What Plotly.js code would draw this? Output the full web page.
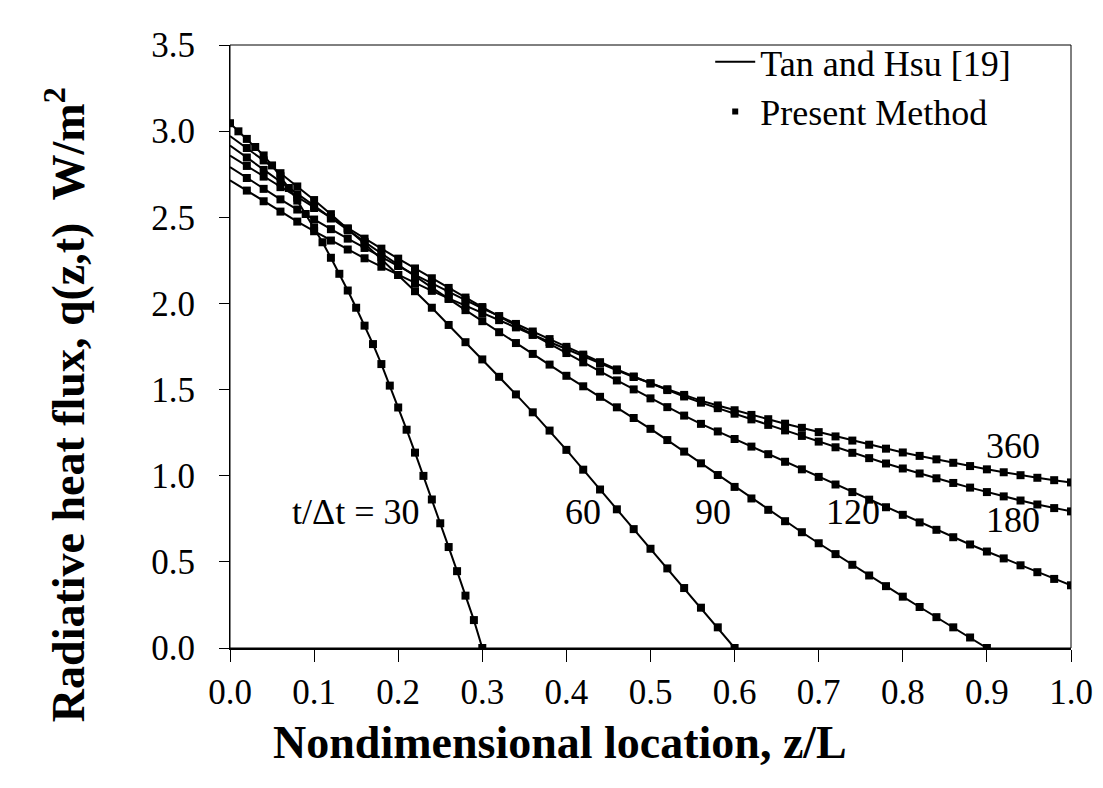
<!DOCTYPE html>
<html>
<head>
<meta charset="utf-8">
<script src="https://cdn.plot.ly/plotly-3.0.1.min.js"></script>
<style>html,body{margin:0;padding:0;background:#fff;}#chart{width:1103px;height:788px;}</style>
</head>
<body>
<div id="chart"></div>
<script>
// x locations
const xs01 = [0.00,0.01,0.02,0.03,0.04,0.05,0.06,0.07,0.08,0.09,0.10,0.11,0.12,0.13,0.14,0.15,0.16,0.17,0.18,0.19,0.20,0.21,0.22,0.23,0.24,0.25,0.26,0.27,0.28,0.29,0.30];
const xs02 = [0.00,0.02,0.04,0.06,0.08,0.10,0.12,0.14,0.16,0.18,0.20,0.22,0.24,0.26,0.28,0.30,0.32,0.34,0.36,0.38,0.40,0.42,0.44,0.46,0.48,0.50,0.52,0.54,0.56,0.58,0.60,0.62,0.64,0.66,0.68,0.70,0.72,0.74,0.76,0.78,0.80,0.82,0.84,0.86,0.88,0.90,0.92,0.94,0.96,0.98,1.00];

// radiative heat flux for each t/dt
const q30 = [3.046,2.999,2.955,2.908,2.859,2.801,2.738,2.670,2.597,2.519,2.440,2.355,2.265,2.172,2.075,1.975,1.871,1.764,1.648,1.523,1.396,1.267,1.134,0.999,0.862,0.724,0.586,0.446,0.304,0.162,0.000];
const q60 = [2.972,2.902,2.830,2.756,2.679,2.600,2.518,2.434,2.347,2.257,2.165,2.071,1.975,1.875,1.775,1.675,1.574,1.472,1.368,1.262,1.150,1.035,0.920,0.805,0.690,0.576,0.462,0.348,0.234,0.120,0.000];
const q90 = [2.917,2.847,2.775,2.704,2.633,2.563,2.494,2.425,2.357,2.290,2.223,2.157,2.091,2.026,1.961,1.897,1.833,1.770,1.707,1.645,1.580,1.519,1.458,1.397,1.335,1.272,1.207,1.140,1.072,1.004,0.935,0.868,0.802,0.736,0.672,0.608,0.545,0.483,0.421,0.359,0.298,0.238,0.179,0.120,0.061,0.000];
const q120 = [2.858,2.798,2.736,2.675,2.614,2.554,2.494,2.435,2.376,2.318,2.260,2.203,2.146,2.090,2.034,1.979,1.925,1.871,1.818,1.765,1.712,1.658,1.605,1.553,1.501,1.449,1.398,1.349,1.301,1.257,1.213,1.169,1.125,1.081,1.037,0.993,0.949,0.905,0.861,0.817,0.773,0.729,0.686,0.643,0.601,0.560,0.520,0.480,0.440,0.401,0.364];
const q180 = [2.792,2.728,2.665,2.604,2.545,2.487,2.431,2.376,2.322,2.269,2.217,2.166,2.116,2.067,2.019,1.972,1.926,1.881,1.837,1.793,1.748,1.703,1.659,1.617,1.576,1.536,1.497,1.460,1.424,1.392,1.360,1.327,1.295,1.263,1.231,1.198,1.165,1.133,1.102,1.071,1.042,1.013,0.985,0.958,0.931,0.905,0.880,0.856,0.833,0.812,0.793];
const q360 = [2.715,2.655,2.593,2.533,2.475,2.419,2.365,2.313,2.262,2.213,2.165,2.118,2.073,2.029,1.986,1.944,1.903,1.861,1.818,1.776,1.734,1.693,1.652,1.612,1.573,1.536,1.502,1.469,1.436,1.408,1.380,1.353,1.328,1.302,1.278,1.253,1.228,1.204,1.180,1.157,1.135,1.115,1.095,1.075,1.056,1.037,1.020,1.003,0.988,0.974,0.961];

const curveLabels = ['t/\u0394t = 30','60','90','120','180','360'];
const labelX = [0.149,0.420,0.574,0.741,0.931,0.931];
const labelY = [0.789,0.789,0.789,0.789,0.743,1.172];

const xTicks = [0,0.1,0.2,0.3,0.4,0.5,0.6,0.7,0.8,0.9,1.0];
const xTickText = ['0.0','0.1','0.2','0.3','0.4','0.5','0.6','0.7','0.8','0.9','1.0'];
const yTicks = [0,0.5,1.0,1.5,2.0,2.5,3.0,3.5];
const yTickText = ['0.0','0.5','1.0','1.5','2.0','2.5','3.0','3.5'];

const xTitle = '<b>Nondimensional location, z/L</b>';
const yTitle = '<b>Radiative heat flux, q(z,t)&nbsp; W/m<sup>2</sup></b>';

const curves = [
  {x: xs01, y: q30, m0: 0},
  {x: xs02.slice(0, q60.length), y: q60, m0: 1},
  {x: xs02.slice(0, q90.length), y: q90, m0: 1},
  {x: xs02, y: q120, m0: 1},
  {x: xs02, y: q180, m0: 1},
  {x: xs02, y: q360, m0: 1}
];

const FONT = 'Liberation Serif, Times New Roman, serif';
const traces = [];
curves.forEach(c => {
  traces.push({x: c.x, y: c.y, mode: 'lines', line: {color: '#000', width: 2}, showlegend: false, hoverinfo: 'skip'});
});
curves.forEach(c => {
  traces.push({x: c.x.slice(c.m0), y: c.y.slice(c.m0), mode: 'markers',
    marker: {symbol: 'square', size: 8, color: '#000'}, showlegend: false, hoverinfo: 'skip'});
});
// legend entries
traces.push({x: [null], y: [null], mode: 'lines', line: {color: '#000', width: 2}, name: 'Tan and Hsu [19]', showlegend: true});
traces.push({x: [null], y: [null], mode: 'markers', marker: {symbol: 'square', size: 6, color: '#000'}, name: 'Present Method', showlegend: true});

const annotations = curveLabels.map((t, i) => ({
  x: labelX[i], y: labelY[i], xref: 'x', yref: 'y', text: t, showarrow: false,
  font: {family: FONT, size: 36, color: '#000'}, xanchor: 'center', yanchor: 'middle'
}));
annotations.push({x: 0.392, y: -0.156, xref: 'paper', yref: 'paper', text: xTitle, showarrow: false,
  font: {family: FONT, size: 46, color: '#000'}, xanchor: 'center', yanchor: 'middle'});
annotations.push({x: -0.196, y: 0.403, xref: 'paper', yref: 'paper', text: yTitle, showarrow: false, textangle: -90,
  font: {family: FONT, size: 46, color: '#000'}, xanchor: 'center', yanchor: 'middle'});

const layout = {
  width: 1103, height: 788,
  margin: {l: 230, r: 32, t: 45, b: 140},
  paper_bgcolor: '#fff', plot_bgcolor: '#fff',
  font: {family: FONT, size: 35, color: '#000'},
  xaxis: {range: [0, 1], tickvals: xTicks, ticktext: xTickText, ticks: 'outside', ticklen: 12, tickwidth: 1, tickcolor: '#000',
    showline: true, linecolor: '#000', linewidth: 2, mirror: false, showgrid: false, zeroline: false,
    tickfont: {family: FONT, size: 35}},
  yaxis: {range: [0, 3.5], tickvals: yTicks, ticktext: yTickText, ticks: 'outside', ticklen: 10, tickwidth: 1, tickcolor: '#000',
    showline: true, linecolor: '#000', linewidth: 1, mirror: false, showgrid: false, zeroline: false,
    ticklabelstandoff: 17, tickfont: {family: FONT, size: 35}},
  xaxis2: {overlaying: 'x', anchor: 'y', range: [0, 1], tickvals: xTicks, showticklabels: false, ticks: 'inside', ticklen: 12, tickwidth: 1, tickcolor: '#000', showline: false, showgrid: false, zeroline: false},
  yaxis2: {overlaying: 'y', anchor: 'x', side: 'left', range: [0, 3.5], tickvals: yTicks, showticklabels: false, ticks: 'inside', ticklen: 12, tickwidth: 1, tickcolor: '#000', showline: false, showgrid: false, zeroline: false},
  shapes: [{type: 'rect', xref: 'paper', yref: 'paper', x0: 0, x1: 1, y0: 0, y1: 1, line: {color: '#000', width: 1}, fillcolor: 'rgba(0,0,0,0)', layer: 'above'}],
  legend: {x: 0.571, y: 1.022, xanchor: 'left', yanchor: 'top', bgcolor: 'rgba(0,0,0,0)', borderwidth: 0,
    font: {family: FONT, size: 36, color: '#000'}, tracegroupgap: 0, itemwidth: 40},
  annotations: annotations,
  showlegend: true
};

Plotly.newPlot('chart', traces, layout, {displayModeBar: false, staticPlot: true});
</script>
</body>
</html>
